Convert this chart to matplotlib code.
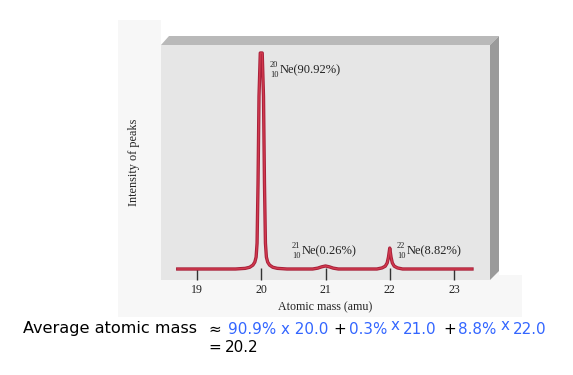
import matplotlib.pyplot as plt
from matplotlib.patches import Polygon

# spectrum (mass in amu, intensity in arbitrary units)
mass_amu = [18.70, 19.60, 19.75, 19.82, 19.87, 19.90, 19.92, 19.935, 19.95, 19.965, 19.985,
            20.015, 20.035, 20.05, 20.065, 20.08, 20.10, 20.13, 20.18, 20.25, 20.40,
            20.80, 20.88, 20.94, 21.00, 21.06, 21.12, 21.20,
            21.80, 21.88, 21.93, 21.96, 21.98, 22.00, 22.02, 22.04, 22.07, 22.12, 22.20, 23.28]
intensity = [0, 0, 0.3, 0.8, 1.8, 3.2, 5.5, 12, 40, 80, 100,
             100, 80, 40, 12, 5.5, 3.2, 1.8, 0.8, 0.3, 0,
             0, 0.4, 1.0, 1.4, 1.0, 0.4, 0,
             0, 0.5, 1.3, 2.8, 5.5, 9.7, 5.5, 2.8, 1.3, 0.5, 0, 0]

tick_pos = [19, 20, 21, 22, 23]
tick_labels = ['19', '20', '21', '22', '23']

peak_mass_no = ['20', '21', '22']
peak_atomic_no = ['10', '10', '10']
peak_labels = ['Ne(90.92%)', 'Ne(0.26%)', 'Ne(8.82%)']

W, H = 573, 375
fig = plt.figure(figsize=(W / 100, H / 100), dpi=100)

# background layer in pixel coordinates
bg = fig.add_axes([0, 0, 1, 1])
bg.set_xlim(0, W)
bg.set_ylim(H, 0)
bg.axis('off')

bg.add_patch(Polygon([(118, 20), (161, 20), (161, 45), (499, 45), (499, 275), (522, 275),
                      (522, 317), (118, 317)], closed=True, fc='#f7f7f7', ec='none'))
bg.add_patch(Polygon([(161, 45), (169, 36), (499, 36), (490, 45)], closed=True, fc='#b9b9b9', ec='none'))
bg.add_patch(Polygon([(490, 45), (499, 36), (499, 271), (490, 280)], closed=True, fc='#9a9a9a', ec='none'))
bg.add_patch(Polygon([(161, 45), (490, 45), (490, 280), (161, 280)], closed=True, fc='#e6e6e6', ec='none'))

serif = 'Liberation Serif'
bg.text(134, 162, 'Intensity of peaks', rotation=90, ha='center', va='center',
        family=serif, fontsize=8.8, color='#222222')
bg.text(325, 307, 'Atomic mass (amu)', ha='center', va='center',
        family=serif, fontsize=8.6, color='#222222')

# equation under the chart
blue = '#3366ff'
fs = 10.9
row1 = 329
pieces = [(23, 'Average atomic mass', 'black', 0, 11.6), (208, '\u2248', 'black', 0, fs),
          (228, '90.9% x 20.0', blue, 0, fs), (333, '+', 'black', 0, fs),
          (349, '0.3%', blue, 0, fs), (391, 'x', blue, -3, fs), (403, '21.0', blue, 0, fs),
          (443, '+', 'black', 0, fs), (458, '8.8%', blue, 0, fs), (501, 'x', blue, -3, fs),
          (513, '22.0', blue, 0, fs)]
for x, s, c, dy, size in pieces:
    bg.text(x, row1 + dy, s, ha='left', va='center', fontsize=size, color=c, family='DejaVu Sans')
bg.text(208, 347, '=', ha='left', va='center', fontsize=fs, color='black')
bg.text(225, 347, '20.2', ha='left', va='center', fontsize=fs, color='black')

# spectrum axes sitting on the front face
px_per_amu = 64.25
x0, x1 = 18.5, 23.5
left_px = 197 - (19 - x0) * px_per_amu
right_px = 454 + (x1 - 23) * px_per_amu
y0, y1 = -5, 105
px_per_unit = 2.16
bottom_px = 269 - y0 * px_per_unit
top_px = bottom_px - (y1 - y0) * px_per_unit
ax = fig.add_axes([left_px / W, (H - bottom_px) / H, (right_px - left_px) / W, (bottom_px - top_px) / H])
ax.patch.set_alpha(0)
for sp in ax.spines.values():
    sp.set_visible(False)
ax.set_xlim(x0, x1)
ax.set_ylim(y0, y1)
ax.set_yticks([])
ax.set_xticks(tick_pos)
ax.set_xticklabels(tick_labels, family=serif, fontsize=8.6, color='#222222')
ax.tick_params(axis='x', direction='in', length=9, width=1, color='#333333', pad=3)

ax.plot(mass_amu, intensity, color='#a8203a', lw=2.4, solid_joinstyle='round', zorder=2)
ax.plot(mass_amu, intensity, color='#d23a4e', lw=1.0, solid_joinstyle='round', zorder=3)

# isotope labels (positions in pixels)
label_px = [(270, 70), (292, 251), (397, 251)]
for (lx, ly), a, z, lab in zip(label_px, peak_mass_no, peak_atomic_no, peak_labels):
    bg.text(lx, ly - 4.8, a, ha='left', va='center', family=serif, fontsize=6.0, color='#222222')
    bg.text(lx, ly + 4.8, z, ha='left', va='center', family=serif, fontsize=6.0, color='#222222')
    bg.text(lx + 10, ly, lab, ha='left', va='center', family=serif, fontsize=9, color='#222222')

fig.savefig('out.png', dpi=100)
